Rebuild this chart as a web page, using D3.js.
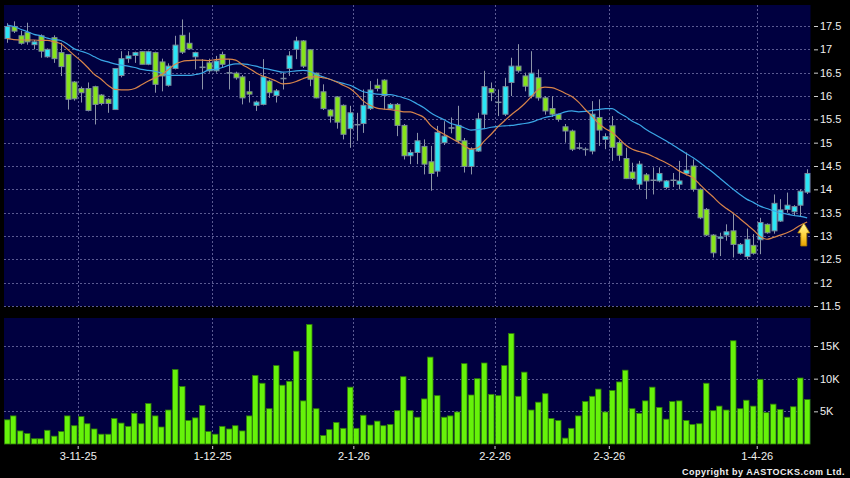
<!DOCTYPE html>
<html lang="en">
<head>
<meta charset="UTF-8">
<title>candle chart</title>
<style>
    * {
        margin: 0;
        padding: 0;
    }

    body {
        background: #000;
        width: 850px;
        height: 478px;
        overflow: hidden;
        font-family: "Liberation Sans", Arial, sans-serif;
    }

    .grid line {
        stroke: #5a5a92;
        stroke-width: 1;
        stroke-dasharray: 2, 2;
    }

    .axis path {
        display: none;
    }

    .axis line {
        stroke: #d0d0d0;
    }

    .axis text {
        fill: #f0f0f0;
        font-size: 11px;
        font-family: "Liberation Sans", Arial, sans-serif;
    }
</style>
<script src="https://cdnjs.cloudflare.com/ajax/libs/d3/7.8.5/d3.min.js"></script>
</head>
<body>
<div id="chart"></div>
<script>
    // daily candles, oldest first
    var opens = [17.23, 17.49, 17.29, 17.36, 17.1, 17.29, 16.84, 17.25, 16.93, 16.89,
        16.3, 16.16, 16.16, 16.2, 16.02, 15.93, 15.71, 16.44, 16.8, 16.87,
        16.95, 16.68, 16.93, 16.73, 16.23, 16.59, 17.3, 17.13, 16.84, 16.62,
        16.71, 16.54, 16.89, 16.5, 16.49, 16.41, 16.09, 15.8, 15.82, 16.32,
        16.01, 16.38, 16.59, 17.0, 17.18, 16.99, 16.49, 16.09, 15.7, 15.98,
        15.8, 15.3, 15.39, 15.41, 15.73, 16.23, 16.34, 15.73, 15.82, 15.37,
        14.72, 14.79, 14.92, 14.59, 14.39, 15.0, 15.32, 15.37, 15.04, 14.49,
        14.82, 15.61, 16.16, 15.87, 15.61, 16.29, 16.64, 16.43, 16.0, 16.39,
        15.96, 15.73, 15.61, 15.34, 15.25, 14.89, 14.86, 14.82, 15.54, 15.07,
        15.36, 15.0, 14.66, 14.37, 14.11, 14.31, 14.2, 14.18, 14.04, 14.2,
        14.11, 14.34, 14.5, 14.0, 13.57, 13.02, 12.95, 13.02, 13.11, 12.63,
        12.56, 12.8, 12.92, 13.25, 13.11, 13.32, 13.57, 13.52, 13.66, 13.94];
    var highs = [17.56, 17.6, 17.4, 17.57, 17.2, 17.32, 17.02, 17.3, 17.14, 16.9,
        16.32, 16.2, 16.29, 16.22, 16.04, 15.95, 16.6, 16.96, 16.96, 16.95,
        16.96, 16.97, 16.95, 16.8, 16.7, 17.29, 17.64, 17.36, 16.95, 16.79,
        16.8, 16.86, 16.95, 16.79, 16.52, 16.45, 16.32, 15.9, 16.79, 16.35,
        16.15, 16.5, 16.96, 17.27, 17.2, 17.0, 16.5, 16.25, 15.72, 16.0,
        15.82, 15.79, 15.64, 16.14, 16.32, 16.37, 16.36, 15.85, 15.85, 15.4,
        14.85, 15.21, 15.07, 14.93, 15.36, 15.46, 15.54, 15.79, 15.1, 14.9,
        15.64, 16.54, 16.29, 16.14, 16.39, 16.82, 17.11, 16.5, 16.96, 16.57,
        16.0, 16.0, 15.62, 15.4, 15.28, 15.0, 14.9, 15.89, 15.93, 15.2,
        15.57, 15.05, 14.89, 14.57, 14.61, 14.35, 14.47, 14.47, 14.2, 14.35,
        14.61, 14.79, 14.64, 14.02, 13.6, 13.04, 13.07, 13.25, 13.5, 12.85,
        13.16, 13.04, 13.39, 13.27, 13.89, 13.79, 13.93, 13.66, 14.0, 14.43];
    var lows = [17.14, 17.35, 17.1, 17.1, 17.0, 16.82, 16.82, 16.71, 16.43, 15.71,
        15.9, 15.86, 15.67, 15.39, 15.8, 15.64, 15.7, 16.4, 16.71, 16.71,
        16.68, 16.66, 16.07, 16.1, 16.2, 16.57, 16.9, 17.0, 16.57, 16.14,
        16.5, 16.5, 16.6, 16.14, 16.35, 15.82, 15.86, 15.68, 15.8, 15.96,
        15.86, 16.14, 16.43, 16.79, 16.6, 16.21, 15.95, 15.7, 15.43, 15.3,
        15.07, 14.89, 15.04, 15.21, 15.7, 16.1, 15.71, 15.7, 15.14, 14.64,
        14.54, 14.54, 14.32, 13.97, 14.27, 14.95, 15.2, 14.98, 14.36, 14.32,
        14.8, 15.29, 15.89, 15.57, 15.57, 16.0, 16.5, 16.1, 15.95, 15.9,
        15.6, 15.55, 15.45, 15.0, 14.82, 14.85, 14.72, 14.75, 14.93, 14.86,
        14.61, 14.61, 14.22, 14.2, 14.0, 13.79, 13.89, 14.15, 14.0, 14.05,
        14.0, 14.3, 13.95, 13.36, 13.0, 12.54, 12.57, 12.9, 12.54, 12.6,
        12.5, 12.6, 12.61, 13.05, 13.05, 13.3, 13.5, 13.43, 13.42, 13.9];
    var closes = [17.49, 17.39, 17.13, 17.16, 17.16, 16.96, 17.0, 16.8, 16.63, 15.93,
        15.94, 16.07, 15.69, 15.82, 15.84, 15.84, 16.59, 16.8, 16.86, 16.93,
        16.68, 16.95, 16.25, 16.43, 16.64, 17.09, 16.94, 17.01, 16.93, 16.62,
        16.54, 16.75, 16.68, 16.5, 16.39, 15.96, 16.04, 15.87, 16.41, 16.07,
        16.11, 16.38, 16.86, 17.18, 16.64, 16.36, 15.96, 15.73, 15.57, 15.44,
        15.18, 15.64, 15.39, 15.8, 16.13, 16.16, 16.01, 15.82, 15.37, 14.72,
        14.79, 15.04, 14.54, 14.34, 15.22, 15.14, 15.32, 15.04, 14.49, 14.86,
        15.51, 16.2, 16.07, 15.87, 16.2, 16.64, 16.54, 16.21, 16.49, 15.96,
        15.68, 15.61, 15.5, 15.25, 14.86, 14.89, 14.86, 15.61, 15.27, 15.13,
        14.9, 14.73, 14.23, 14.23, 14.54, 14.18, 14.2, 14.34, 14.18, 14.2,
        14.18, 14.41, 14.0, 13.39, 13.02, 12.64, 12.98, 13.09, 12.82, 12.82,
        12.93, 12.63, 13.29, 13.07, 13.7, 13.56, 13.66, 13.63, 13.96, 14.34];

    // turnover, shares
    var volumes = [3700, 4300, 2000, 1600, 800, 800, 2100, 1200, 1900, 4300,
        2800, 4200, 3100, 2300, 1500, 1500, 3900, 3200, 2700, 4700,
        3100, 6200, 4300, 2600, 5200, 11400, 8800, 3600, 4000, 5900,
        1900, 1500, 2700, 2300, 2800, 2000, 4300, 10500, 9300, 5400,
        12000, 9000, 9600, 14200, 6600, 18300, 5400, 1300, 2200, 3300,
        2400, 8700, 2400, 4400, 2900, 3500, 2800, 3000, 5100, 10300,
        5100, 4100, 6900, 13300, 7400, 4100, 4300, 4900, 12300, 7500,
        10000, 12400, 7600, 7400, 12000, 16900, 7300, 11000, 5200, 6400,
        7700, 3900, 3600, 900, 2400, 4300, 6500, 7300, 8400, 4900,
        8200, 9500, 11300, 5400, 4700, 6600, 8700, 5600, 3800, 6500,
        6600, 3600, 3000, 3100, 9300, 5100, 5800, 5200, 15800, 5400,
        6700, 5800, 9900, 4800, 6100, 5300, 4100, 5700, 10100, 6800];

    // moving averages as plotted (blue = long, orange = short)
    var maLong = [17.52, 17.49, 17.43, 17.38, 17.32, 17.29, 17.24, 17.21, 17.19, 17.11,
        17.01, 16.96, 16.91, 16.84, 16.77, 16.73, 16.69, 16.66, 16.64, 16.61,
        16.57, 16.55, 16.53, 16.49, 16.44, 16.44, 16.44, 16.44, 16.46, 16.49,
        16.56, 16.57, 16.61, 16.66, 16.69, 16.69, 16.67, 16.64, 16.6, 16.57,
        16.54, 16.51, 16.52, 16.54, 16.55, 16.53, 16.46, 16.41, 16.36, 16.31,
        16.27, 16.23, 16.16, 16.09, 16.06, 16.04, 16.03, 16.03, 16.0, 15.96,
        15.91, 15.83, 15.75, 15.64, 15.56, 15.49, 15.41, 15.37, 15.32, 15.27,
        15.28, 15.3, 15.33, 15.35, 15.36, 15.37, 15.39, 15.41, 15.44, 15.49,
        15.54, 15.57, 15.61, 15.66, 15.68, 15.66, 15.67, 15.69, 15.71, 15.73,
        15.73, 15.64, 15.56, 15.46, 15.39, 15.29, 15.2, 15.12, 15.04, 14.95,
        14.86, 14.77, 14.68, 14.58, 14.47, 14.36, 14.24, 14.12, 14.0, 13.89,
        13.79, 13.72, 13.64, 13.59, 13.54, 13.5, 13.47, 13.44, 13.42, 13.39];
    var maShort = [17.23, 17.21, 17.2, 17.2, 17.2, 17.19, 17.19, 17.16, 17.12, 17.0,
        16.87, 16.75, 16.61, 16.46, 16.36, 16.23, 16.14, 16.13, 16.13, 16.16,
        16.24, 16.32, 16.39, 16.46, 16.57, 16.68, 16.74, 16.76, 16.77, 16.77,
        16.76, 16.78, 16.79, 16.79, 16.77, 16.67, 16.59, 16.5, 16.43, 16.38,
        16.32, 16.26, 16.27, 16.31, 16.37, 16.41, 16.41, 16.39, 16.36, 16.3,
        16.23, 16.16, 16.04, 15.89, 15.8, 15.74, 15.72, 15.71, 15.69, 15.66,
        15.66, 15.61, 15.54, 15.37, 15.26, 15.18, 15.1, 15.02, 14.93, 14.86,
        14.89, 15.04, 15.18, 15.34, 15.47, 15.6, 15.71, 15.84, 15.99, 16.14,
        16.19, 16.18, 16.13, 16.06, 15.99, 15.87, 15.71, 15.57, 15.41, 15.3,
        15.22, 15.09, 14.95, 14.86, 14.81, 14.77, 14.71, 14.64, 14.57, 14.49,
        14.39, 14.32, 14.25, 14.11, 13.97, 13.84, 13.7, 13.59, 13.49, 13.37,
        13.25, 13.13, 12.99, 12.93, 12.97, 13.02, 13.07, 13.14, 13.23, 13.3];

    // first trading day of each month
    var monthIdx = [11, 31, 52, 73, 90, 112];
    var monthLabels = ['3-11-25', '1-12-25', '2-1-26', '2-2-26', '2-3-26', '1-4-26'];
    var priceTicks = [11.5, 12, 12.5, 13, 13.5, 14, 14.5, 15, 15.5, 16, 16.5, 17, 17.5];
    var volTicks = [5000, 10000, 15000];

    var width = 850,
        height = 478,
        left = 4,
        right = 810.5,
        pTop = 5,
        pBottom = 306,
        vTop = 318,
        vBottom = 443.5;

    var n = closes.length;

    var x = d3.scaleLinear().domain([0, n]).range([3.75, right]);
    var slot = x(1) - x(0);
    var y = d3.scaleLinear().domain([11.5, 17.5]).range([pBottom, 26]);
    var yv = d3.scaleLinear().domain([0, 15000]).range([444, 346]);

    var svg = d3.select('#chart').append('svg')
        .attr('width', width)
        .attr('height', height)
        .style('display', 'block')
        .style('background', '#000');

    // panels
    svg.append('rect').attr('x', left).attr('y', pTop)
        .attr('width', right - left).attr('height', pBottom - pTop)
        .attr('fill', '#000040');
    svg.append('rect').attr('x', left).attr('y', vTop)
        .attr('width', right - left).attr('height', vBottom - vTop)
        .attr('fill', '#000040');

    // grid
    var grid = svg.append('g').attr('class', 'grid');
    grid.selectAll('.hp').data(priceTicks).enter().append('line')
        .attr('x1', left).attr('x2', right)
        .attr('y1', function(d) { return Math.round(y(d)) + 0.5; })
        .attr('y2', function(d) { return Math.round(y(d)) + 0.5; });
    grid.selectAll('.hv').data(volTicks).enter().append('line')
        .attr('x1', left).attr('x2', right)
        .attr('y1', function(d) { return Math.round(yv(d)) + 0.5; })
        .attr('y2', function(d) { return Math.round(yv(d)) + 0.5; });
    monthIdx.forEach(function(i) {
        var gx = Math.round(x(i)) + 0.5;
        grid.append('line').attr('x1', gx).attr('x2', gx).attr('y1', pTop).attr('y2', pBottom);
        grid.append('line').attr('x1', gx).attr('x2', gx).attr('y1', vTop).attr('y2', vBottom);
    });

    // candles
    var bodyW = 5;
    var candles = svg.append('g');
    var idx = d3.range(n);

    candles.selectAll('.wick').data(idx).enter().append('line')
        .attr('x1', function(i) { return Math.round(x(i + 0.5)) + 0.5; })
        .attr('x2', function(i) { return Math.round(x(i + 0.5)) + 0.5; })
        .attr('y1', function(i) { return y(highs[i]); })
        .attr('y2', function(i) { return y(lows[i]); })
        .attr('stroke', '#8c94a8')
        .attr('stroke-width', 1);

    candles.selectAll('.body').data(idx).enter().append('rect')
        .attr('x', function(i) { return Math.round(x(i + 0.5)) - 2; })
        .attr('y', function(i) { return y(Math.max(opens[i], closes[i])); })
        .attr('width', bodyW)
        .attr('height', function(i) { return Math.max(0.5, Math.abs(y(opens[i]) - y(closes[i]))); })
        .attr('fill', function(i) {
            if (Math.abs(closes[i] - opens[i]) < 0.02) return '#9aa4b8';
            return closes[i] > opens[i] ? '#2ae6f6' : '#86e41a';
        })
        .attr('stroke', '#7a8a9c')
        .attr('stroke-width', 1);

    // moving averages
    var line = d3.line()
        .x(function(d, i) { return x(i + 0.5); })
        .y(function(d) { return y(d); })
        .curve(d3.curveMonotoneX);

    svg.append('path').datum(maLong)
        .attr('d', line)
        .attr('fill', 'none')
        .attr('stroke', '#3aa6e6')
        .attr('stroke-width', 1.2);
    svg.append('path').datum(maShort)
        .attr('d', line)
        .attr('fill', 'none')
        .attr('stroke', '#d8844a')
        .attr('stroke-width', 1.2);

    // yellow arrow pointing at the short average on the last day
    var defs = svg.append('defs');
    var grad = defs.append('linearGradient').attr('id', 'arrowGrad')
        .attr('x1', 0).attr('x2', 0).attr('y1', 0).attr('y2', 1);
    grad.append('stop').attr('offset', '0%').attr('stop-color', '#fff6a0');
    grad.append('stop').attr('offset', '55%').attr('stop-color', '#ffd23a');
    grad.append('stop').attr('offset', '100%').attr('stop-color', '#e8a000');

    var ax = x(n - 1),
        ay = y(maShort[n - 1]) + 1;
    svg.append('path')
        .attr('d', 'M0,0 L6,10 L3,10 L3,23 L-3,23 L-3,10 L-6,10 Z')
        .attr('transform', 'translate(' + ax + ',' + ay + ')')
        .attr('fill', 'url(#arrowGrad)')
        .attr('stroke', '#a67800')
        .attr('stroke-width', 0.8);

    // volume bars
    svg.append('g').selectAll('rect').data(volumes).enter().append('rect')
        .attr('x', function(d, i) { return Math.round(x(i)) + 0.5; })
        .attr('y', function(d) { return yv(d); })
        .attr('width', slot - 1.2)
        .attr('height', function(d) { return 444 - yv(d); })
        .attr('fill', '#66f20a')
        .attr('stroke', '#2f7d0a')
        .attr('stroke-width', 0.8);

    // axes
    svg.append('g').attr('class', 'axis')
        .attr('transform', 'translate(814,0)')
        .call(d3.axisRight(y).tickValues(priceTicks).tickSize(4).tickPadding(2)
            .tickFormat(function(d) { return String(d); }));

    svg.append('g').attr('class', 'axis')
        .attr('transform', 'translate(814,0)')
        .call(d3.axisRight(yv).tickValues(volTicks).tickSize(4).tickPadding(2)
            .tickFormat(function(d) { return (d / 1000) + 'K'; }));

    svg.append('g').attr('class', 'axis')
        .attr('transform', 'translate(0,446)')
        .call(d3.axisBottom(x).tickValues(monthIdx).tickSize(3).tickPadding(3)
            .tickFormat(function(d, i) { return monthLabels[i]; }));

    svg.append('text')
        .attr('x', 845)
        .attr('y', 475)
        .attr('text-anchor', 'end')
        .attr('fill', '#f0f0f0')
        .style('font-size', '9px')
        .style('font-weight', 'bold')
        .style('letter-spacing', '0.5px')
        .text('Copyright by AASTOCKS.com Ltd.');
</script>
</body>
</html>
